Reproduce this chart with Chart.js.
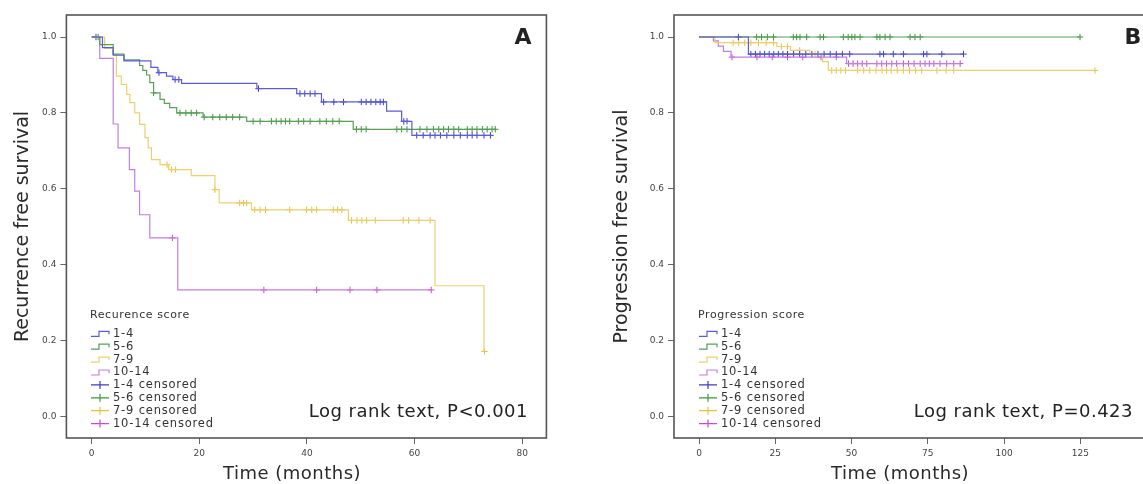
<!DOCTYPE html>
<html>
<head>
<meta charset="utf-8">
<script src="https://cdn.jsdelivr.net/npm/chart.js@4.4.1/dist/chart.umd.min.js"></script>
<style>
  html, body { margin: 0; padding: 0; background: #fff; overflow: hidden; }
  body { width: 1143px; height: 484px; position: relative; }
  canvas { position: absolute; top: 0; }
  #chartA { left: 0; }
  #chartB { left: 580px; }
</style>
</head>
<body>
<canvas id="chartA" width="575" height="484"></canvas>
<canvas id="chartB" width="620" height="484"></canvas>
<script>
// ---- data ----
const groupLabels = ["1-4", "5-6", "7-9", "10-14"];
const yTicks = [0, 0.2, 0.4, 0.6, 0.8, 1.0];
const xTicksA = [0, 20, 40, 60, 80];
const xTicksB = [0, 25, 50, 75, 100, 125, 150];

// panel A : recurrence free survival (event times in months, survival after event)
const aTime14 = [0, 2, 4, 6, 11, 12.3, 13.9, 15.1, 16.7, 30.7, 38.1, 42.7, 54.8, 57.6, 59.5, 74.4];
const aSurv14 = [1, 0.972, 0.952, 0.937, 0.92, 0.906, 0.897, 0.888, 0.878, 0.864, 0.851, 0.829, 0.805, 0.778, 0.741, 0.741];
const aCens14 = [0.8, 12.5, 15.5, 16.2, 31, 38.7, 39.6, 40.6, 41.5, 43.1, 45, 46.8, 50.1, 51, 51.9, 52.8, 53.6, 54.2,
  58, 58.6, 60.4, 61.6, 62.9, 63.8, 64.8, 66, 67.3, 68.5, 69.8, 70.7, 71.6, 72.9, 74.1];

const aTime56 = [0, 1.5, 4, 6, 8.9, 9.5, 10.2, 10.8, 11.5, 12.7, 13.5, 14.5, 15.8, 20.7, 28.8, 48.6, 75];
const aSurv56 = [1, 0.98, 0.955, 0.94, 0.925, 0.912, 0.9, 0.88, 0.853, 0.836, 0.825, 0.814, 0.8, 0.789, 0.778, 0.757, 0.757];
const aCens56 = [1.2, 11.5, 16.4, 17.5, 18.5, 19.5, 20.9, 22.5, 23.8, 25, 26.2, 27.5, 30, 31.3, 33.4, 34.3, 35.2, 36,
  36.8, 38.4, 39.4, 40.6, 42.4, 43.6, 44.8, 46, 49.2, 50.1, 51, 56.7, 57.6, 58.6, 61, 62.3, 63.5, 64.5, 65.4, 66.3,
  67.3, 68.2, 69.8, 70.7, 71.6, 72.6, 73.5, 74.4, 75];

const aTime79 = [0, 2.4, 3.9, 4.6, 5.5, 6.5, 7.1, 8.0, 8.9, 9.9, 10.5, 11.1, 12.7, 14.3, 18.5, 22.9, 23.7, 29.7, 47.7, 63.8, 72.9];
const aSurv79 = [1, 0.97, 0.954, 0.897, 0.875, 0.849, 0.827, 0.8, 0.77, 0.735, 0.708, 0.677, 0.664, 0.651, 0.635, 0.598,
  0.563, 0.545, 0.517, 0.345, 0.172];
const aCens79 = [14, 14.8, 15.6, 22.9, 27.5, 28.2, 28.8, 30.3, 31.3, 32.3, 36.8, 39.9, 40.9, 41.8, 44.9, 45.7, 46.5,
  48.3, 49.3, 50.2, 51.1, 52.7, 57.9, 58.9, 60.8, 62.9, 73];

const aTime1014 = [0, 1.5, 4.0, 4.9, 7.0, 8.0, 8.9, 10.8, 16.0, 63.1];
const aSurv1014 = [1, 0.944, 0.771, 0.708, 0.651, 0.594, 0.532, 0.471, 0.334, 0.334];
const aCens1014 = [15, 32, 41.8, 48, 53, 63.1];

// panel B : progression free survival
const bTime14 = [0, 16.2, 86.7];
const bSurv14 = [1, 0.955, 0.955];
const bCens14 = [12.9, 17, 18.5, 20, 21.5, 23, 24.5, 26, 27.5, 29, 31, 33, 35, 37, 39, 41, 43, 45, 47, 49.4,
  59.3, 60.5, 63.7, 67, 73.6, 74.7, 79.6, 86.7];

const bTime56 = [0, 125];
const bSurv56 = [1, 1];
const bCens56 = [18.9, 20.5, 22.4, 24.4, 30.9, 32, 33.1, 35.3, 39.7, 40.8, 47.3, 48.9, 50.1, 51.1, 52.8, 58.3,
  59.3, 61, 62.6, 69.2, 70.8, 72.5, 124.9];

const bTime79 = [0, 5.2, 25.5, 30, 36.3, 40.5, 42.4, 129.8];
const bSurv79 = [1, 0.985, 0.975, 0.965, 0.955, 0.935, 0.912, 0.912];
const bCens79 = [11.2, 13, 15, 17, 19.5, 22, 24.4, 27, 29, 33, 38, 43.5, 45, 46.5, 48, 52, 54, 56, 58, 60, 61.5,
  63, 65, 67, 69, 71, 73, 78, 81, 83.5, 129.8];

const bTime1014 = [0, 4.7, 6.3, 8, 10.5, 48.4, 85.6];
const bSurv1014 = [1, 0.99, 0.976, 0.962, 0.947, 0.93, 0.93];
const bCens1014 = [10.8, 19, 24, 29, 34, 40, 45, 49, 50.5, 52, 53.5, 55, 58.3, 59.9, 61.5, 63.2, 64.8, 67, 68.7,
  70.5, 72.5, 74.1, 75.5, 77, 79, 81.2, 83.5, 85.6];

const lineColors = ["#5c5cd6", "#5a9e5a", "#ecd070", "#c47ee0"];
const censColors = ["#3c3cc4", "#3c963c", "#e6c040", "#cc48d0"];
const FONT = '"DejaVu Sans", sans-serif';

// survival value of a step curve at time t (censor ticks sit on the curve)
function survAt(times, surv, t) {
  let s = surv[0];
  for (let i = 0; i < times.length; i++) {
    if (times[i] <= t) s = surv[i];
  }
  return s;
}

function buildDatasets(times, survs, cens) {
  const sets = [];
  for (let g = 0; g < 4; g++) {
    sets.push({
      label: groupLabels[g],
      data: times[g].map((t, i) => ({ x: t, y: survs[g][i] })),
      stepped: "before",
      borderColor: lineColors[g],
      borderWidth: 1.2,
      pointRadius: 0,
      fill: false
    });
  }
  for (let g = 0; g < 4; g++) {
    sets.push({
      label: groupLabels[g] + " censored",
      data: cens[g].map(t => ({ x: t, y: survAt(times[g], survs[g], t) })),
      showLine: false,
      pointStyle: "cross",
      pointRadius: 3.2,
      pointBorderWidth: 1,
      borderColor: censColors[g],
      pointBorderColor: censColors[g]
    });
  }
  return sets;
}

// frame round the plot area
const framePlugin = {
  id: "frame",
  afterDatasetsDraw(chart) {
    const a = chart.chartArea, ctx = chart.ctx;
    ctx.save();
    ctx.strokeStyle = "#555";
    ctx.lineWidth = 1.6;
    ctx.strokeRect(a.left, a.top, a.right - a.left, a.bottom - a.top);
    ctx.restore();
  }
};

// legend block inside the plot, SPSS style
const kmLegend = {
  id: "kmLegend",
  afterDraw(chart, args, opts) {
    const ctx = chart.ctx;
    ctx.save();
    ctx.textBaseline = "middle";
    ctx.fillStyle = "#333";
    ctx.letterSpacing = "0.6px";
    ctx.font = "11px " + FONT;
    ctx.fillText(opts.title, opts.x, opts.y);
    ctx.letterSpacing = "0.8px";
    ctx.font = "11.5px " + FONT;
    chart.data.datasets.forEach((ds, i) => {
      const y = opts.y0 + i * opts.step;
      const x = opts.x + 1;
      ctx.lineWidth = 1.2;
      if (i < 4) {
        ctx.strokeStyle = lineColors[i];
        ctx.beginPath();
        ctx.moveTo(x, y + 3);
        ctx.lineTo(x + 8, y + 3);
        ctx.lineTo(x + 8, y - 2);
        ctx.lineTo(x + 18, y - 2);
        ctx.lineTo(x + 18, y + 1);
        ctx.stroke();
      } else {
        ctx.strokeStyle = censColors[i - 4];
        ctx.beginPath();
        ctx.moveTo(x, y);
        ctx.lineTo(x + 18, y);
        ctx.moveTo(x + 9, y - 4);
        ctx.lineTo(x + 9, y + 4);
        ctx.stroke();
      }
      ctx.fillStyle = "#333";
      ctx.fillText(ds.label, x + 22, y + 0.5);
    });
    ctx.restore();
  }
};

// panel letter, log rank note and x axis title
const notes = {
  id: "notes",
  afterDraw(chart, args, opts) {
    const ctx = chart.ctx;
    ctx.save();
    ctx.fillStyle = "#222";
    ctx.textBaseline = "middle";
    ctx.textAlign = "center";
    ctx.font = "bold 22px " + FONT;
    ctx.fillText(opts.letter, opts.letterX, 38);
    ctx.textAlign = "right";
    ctx.letterSpacing = "0.5px";
    ctx.font = "18px " + FONT;
    ctx.fillText(opts.logRank, opts.logRankX, 412);
    ctx.textAlign = "center";
    ctx.fillStyle = "#2a2a2a";
    ctx.fillText("Time (months)", opts.titleX, 474);
    ctx.restore();
  }
};

function makeChart(id, datasets, cfg) {
  return new Chart(document.getElementById(id), {
    type: "line",
    data: { datasets: datasets },
    plugins: [framePlugin, kmLegend, notes],
    options: {
      responsive: false,
      animation: false,
      layout: { padding: { top: 15, right: cfg.padRight, left: 0, bottom: 0 } },
      plugins: {
        legend: { display: false },
        tooltip: { enabled: false },
        kmLegend: cfg.legend,
        notes: cfg.notes
      },
      scales: {
        x: {
          type: "linear",
          min: cfg.xMin,
          max: cfg.xMax,
          afterBuildTicks: s => { s.ticks = cfg.xTicks.map(v => ({ value: v })); },
          afterFit: s => { s.height = 46; },
          grid: { drawOnChartArea: false, drawTicks: true, tickLength: 6, color: "#666" },
          border: { display: false },
          ticks: { padding: 4, color: "#444", font: { family: FONT, size: 9 }, maxRotation: 0 }
        },
        y: {
          min: -0.056,
          max: 1.058,
          afterBuildTicks: s => { s.ticks = yTicks.map(v => ({ value: v })); },
          afterFit: s => { s.width = cfg.yWidth; },
          grid: { drawOnChartArea: false, drawTicks: true, tickLength: 6, color: "#666" },
          border: { display: false },
          ticks: { padding: 4, color: "#444", font: { family: FONT, size: 9 }, callback: v => v.toFixed(1) },
          title: {
            display: true,
            text: cfg.yTitle,
            color: "#2a2a2a",
            font: { family: FONT, size: 19 },
            padding: { top: cfg.yTitlePad, bottom: 0 }
          }
        }
      }
    }
  });
}

makeChart("chartA",
  buildDatasets([aTime14, aTime56, aTime79, aTime1014], [aSurv14, aSurv56, aSurv79, aSurv1014],
    [aCens14, aCens56, aCens79, aCens1014]),
  {
    padRight: 28.6, xMin: -4.7, xMax: 84.5, xTicks: xTicksA, yWidth: 66.4,
    yTitle: "Recurrence free survival", yTitlePad: 12,
    legend: { title: "Recurence score", x: 90, y: 315, y0: 333.3, step: 12.9 },
    notes: { letter: "A", letterX: 523, logRank: "Log rank text, P<0.001", logRankX: 528, titleX: 292 }
  });

makeChart("chartB",
  buildDatasets([bTime14, bTime56, bTime79, bTime1014], [bSurv14, bSurv56, bSurv79, bSurv1014],
    [bCens14, bCens56, bCens79, bCens1014]),
  {
    padRight: 19, xMin: -8.2, xMax: 158, xTicks: xTicksB, yWidth: 94,
    yTitle: "Progression free survival", yTitlePad: 31,
    legend: { title: "Progression score", x: 118, y: 315, y0: 333.3, step: 12.9 },
    notes: { letter: "B", letterX: 553, logRank: "Log rank text, P=0.423", logRankX: 553, titleX: 320 }
  });
</script>
</body>
</html>
